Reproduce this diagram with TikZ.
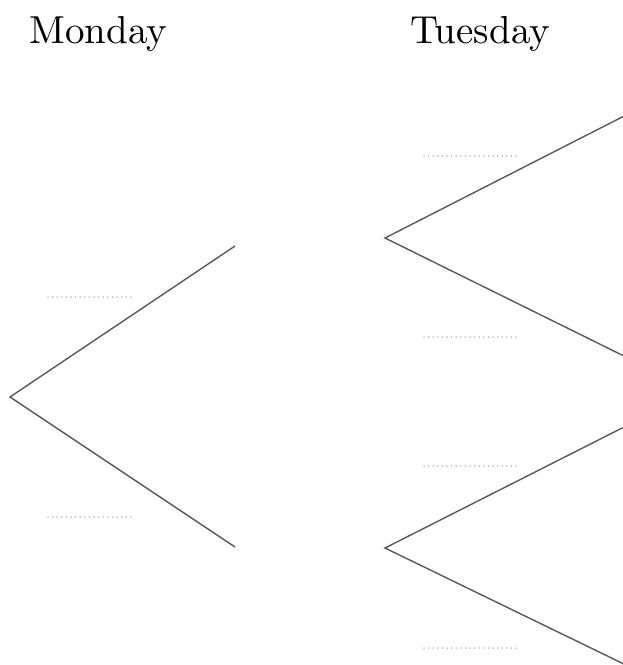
\documentclass[tikz,border=0pt]{standalone}
\usepackage{graphicx}
\begin{document}
\begin{tikzpicture}[x=1pt,y=-1pt,
  branch/.style={draw=black!65,line width=1.4pt},
  blank/.style={draw=black!40,line width=1.5pt,line cap=round,dash pattern=on 0pt off 4.6pt},
  day/.style={inner sep=0pt,anchor=base}]
\useasboundingbox (0,0) rectangle (623,665);
\clip (0,0) rectangle (623,665);
\node[day] (mon) at (98.5,43) {\scalebox{3.9}{Monday}};
\node[day] (tue) at (480,43) {\scalebox{3.9}{Tuesday}};
% Monday tree
\coordinate (m0) at (10,397);
\coordinate (m1) at (235,246);
\coordinate (m2) at (235,547);
\draw[branch] (m1) -- (m0) -- (m2);
% Tuesday trees
\coordinate (t1) at (385,238);
\coordinate (t1a) at (630,113);
\coordinate (t1b) at (630,359);
\coordinate (t2) at (385,548);
\coordinate (t2a) at (630,424);
\coordinate (t2b) at (630,667);
\draw[branch] (t1a) -- (t1) -- (t1b);
\draw[branch] (t2a) -- (t2) -- (t2b);
% blanks
\coordinate (b1s) at (48,297); \coordinate (b1e) at (134,297);
\coordinate (b2s) at (48,517); \coordinate (b2e) at (134,517);
\coordinate (b3s) at (424,156); \coordinate (b3e) at (518,156);
\coordinate (b4s) at (424,337); \coordinate (b4e) at (518,337);
\coordinate (b5s) at (424,466); \coordinate (b5e) at (518,466);
\coordinate (b6s) at (424,648); \coordinate (b6e) at (518,648);
\draw[blank] (b1s) -- (b1e);
\draw[blank] (b2s) -- (b2e);
\draw[blank] (b3s) -- (b3e);
\draw[blank] (b4s) -- (b4e);
\draw[blank] (b5s) -- (b5e);
\draw[blank] (b6s) -- (b6e);
\end{tikzpicture}
\end{document}
